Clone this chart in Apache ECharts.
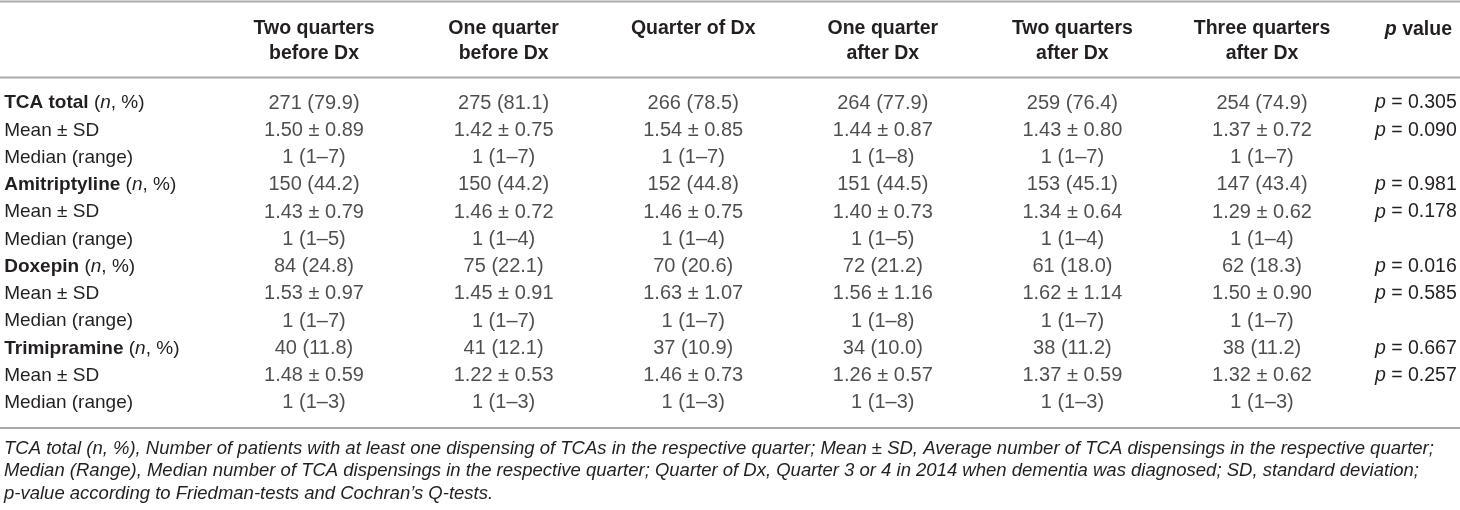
<!DOCTYPE html>
<html>
<head>
<meta charset="utf-8">
<script src="https://cdn.jsdelivr.net/npm/echarts@6/dist/echarts.min.js"></script>
<style>
  html, body { margin: 0; padding: 0; background: #fff; }
  #main { width: 1460px; height: 510px; }
</style>
</head>
<body>
<div id="main"></div>
<script>
// column headers (quarters relative to dementia diagnosis)
const quarters = ['Two quarters\nbefore Dx', 'One quarter\nbefore Dx', 'Quarter of Dx\n ',
    'One quarter\nafter Dx', 'Two quarters\nafter Dx', 'Three quarters\nafter Dx'];
const drugs = ['TCA total', 'Amitriptyline', 'Doxepin', 'Trimipramine'];

// n and % of patients with at least one dispensing, per drug and quarter
const countN = [
    [271, 275, 266, 264, 259, 254],
    [150, 150, 152, 151, 153, 147],
    [84, 75, 70, 72, 61, 62],
    [40, 41, 37, 34, 38, 38]
];
const countPct = [
    [79.9, 81.1, 78.5, 77.9, 76.4, 74.9],
    [44.2, 44.2, 44.8, 44.5, 45.1, 43.4],
    [24.8, 22.1, 20.6, 21.2, 18.0, 18.3],
    [11.8, 12.1, 10.9, 10.0, 11.2, 11.2]
];
// mean ± SD of dispensings
const meanVal = [
    [1.50, 1.42, 1.54, 1.44, 1.43, 1.37],
    [1.43, 1.46, 1.46, 1.40, 1.34, 1.29],
    [1.53, 1.45, 1.63, 1.56, 1.62, 1.50],
    [1.48, 1.22, 1.46, 1.26, 1.37, 1.32]
];
const sdVal = [
    [0.89, 0.75, 0.85, 0.87, 0.80, 0.72],
    [0.79, 0.72, 0.75, 0.73, 0.64, 0.62],
    [0.97, 0.91, 1.07, 1.16, 1.14, 0.90],
    [0.59, 0.53, 0.73, 0.57, 0.59, 0.62]
];
// median (min–max)
const medianVal = [
    [1, 1, 1, 1, 1, 1],
    [1, 1, 1, 1, 1, 1],
    [1, 1, 1, 1, 1, 1],
    [1, 1, 1, 1, 1, 1]
];
const rangeMin = [
    [1, 1, 1, 1, 1, 1],
    [1, 1, 1, 1, 1, 1],
    [1, 1, 1, 1, 1, 1],
    [1, 1, 1, 1, 1, 1]
];
const rangeMax = [
    [7, 7, 7, 8, 7, 7],
    [5, 4, 4, 5, 4, 4],
    [7, 7, 7, 8, 7, 7],
    [3, 3, 3, 3, 3, 3]
];
// p values: counts (Cochran's Q) and means (Friedman)
const pCount = [0.305, 0.981, 0.016, 0.667];
const pMean = [0.090, 0.178, 0.585, 0.257];

const footnote = [
    'TCA total (n, %), Number of patients with at least one dispensing of TCAs in the respective quarter; Mean \u00b1 SD, Average number of TCA dispensings in the respective quarter;',
    'Median (Range), Median number of TCA dispensings in the respective quarter; Quarter of Dx, Quarter 3 or 4 in 2014 when dementia was diagnosed; SD, standard deviation;',
    'p-value according to Friedman-tests and Cochran\u2019s Q-tests.'
];

const FONT = '"Liberation Sans", Arial, sans-serif';
const TXT = '#231f20';

// build row labels, p column and cell data
let rowLabels = [];
let pLabels = [];
let cells = [];
drugs.forEach((drug, d) => {
    let r0 = d * 3;
    rowLabels.push('{b|' + drug + '} ({i|n}, %)', 'Mean \u00b1 SD', 'Median (range)');
    pLabels.push('{i|p} = ' + pCount[d].toFixed(3), '{i|p} = ' + pMean[d].toFixed(3), '');
    quarters.forEach((q, c) => {
        cells.push([c, r0, countN[d][c] + ' (' + countPct[d][c].toFixed(1) + ')']);
        cells.push([c, r0 + 1, meanVal[d][c].toFixed(2) + ' \u00b1 ' + sdVal[d][c].toFixed(2)]);
        cells.push([c, r0 + 2, medianVal[d][c] + ' (' + rangeMin[d][c] + '\u2013' + rangeMax[d][c] + ')']);
    });
});
let rowKeys = rowLabels.map((l, i) => 'r' + i);

function richFor(size) {
    return {
        b: { fontWeight: 'bold', fontFamily: FONT, fontSize: size, color: TXT },
        i: { fontStyle: 'italic', fontFamily: FONT, fontSize: size, color: TXT }
    };
}

var chart = echarts.init(document.getElementById('main'));

var option = {
    animation: false,
    backgroundColor: '#fff',
    title: {
        text: '{i|p} value',
        right: 8,
        top: 17,
        padding: 0,
        textStyle: {
            fontFamily: FONT, fontSize: 19.5, fontWeight: 'bold', color: TXT, lineHeight: 25,
            rich: { i: { fontStyle: 'italic', fontWeight: 'bold', fontFamily: FONT, fontSize: 19.5, color: TXT, lineHeight: 25 } }
        }
    },
    grid: { left: 219.2, right: 103.2, top: 89.4, bottom: 93.4 },
    xAxis: {
        type: 'category',
        position: 'top',
        data: quarters,
        axisLine: { show: false },
        axisTick: { show: false },
        splitLine: { show: false },
        axisLabel: {
            interval: 0,
            margin: 73,
            verticalAlign: 'top',
            lineHeight: 25,
            fontFamily: FONT,
            fontSize: 19.5,
            fontWeight: 'bold',
            color: TXT
        }
    },
    yAxis: [{
        type: 'category',
        inverse: true,
        data: rowKeys,
        axisLine: { show: false },
        axisTick: { show: false },
        splitLine: { show: false },
        axisLabel: {
            interval: 0,
            align: 'left',
            margin: 215,
            fontFamily: FONT,
            fontSize: 19,
            color: TXT,
            formatter: (v, i) => rowLabels[i],
            rich: richFor(19)
        }
    }, {
        type: 'category',
        inverse: true,
        position: 'right',
        data: rowKeys,
        axisLine: { show: false },
        axisTick: { show: false },
        splitLine: { show: false },
        axisLabel: {
            interval: 0,
            align: 'right',
            margin: 100,
            fontFamily: FONT,
            fontSize: 19.5,
            color: TXT,
            formatter: (v, i) => pLabels[i],
            rich: richFor(19.5)
        }
    }],
    series: [{
        type: 'scatter',
        data: cells,
        symbolSize: 1,
        itemStyle: { color: 'rgba(0,0,0,0)' },
        silent: true,
        label: {
            show: true,
            position: 'inside',
            formatter: p => p.data[2],
            fontFamily: FONT,
            fontSize: 20,
            color: TXT
        }
    }],
    graphic: [
        { type: 'line', shape: { x1: 0, y1: 1.5, x2: 1460, y2: 1.5 }, style: { stroke: '#aaaaaa', lineWidth: 2 } },
        { type: 'line', shape: { x1: 0, y1: 77.5, x2: 1460, y2: 77.5 }, style: { stroke: '#aaaaaa', lineWidth: 2 } },
        { type: 'line', shape: { x1: 0, y1: 428, x2: 1460, y2: 428 }, style: { stroke: '#aaaaaa', lineWidth: 2 } },
        {
            type: 'text',
            left: 4,
            top: 437.5,
            style: {
                text: footnote.join('\n'),
                fontFamily: FONT,
                fontSize: 18.5,
                fontStyle: 'italic',
                lineHeight: 22.5,
                fill: TXT
            }
        }
    ]
};

chart.setOption(option);
</script>
</body>
</html>
